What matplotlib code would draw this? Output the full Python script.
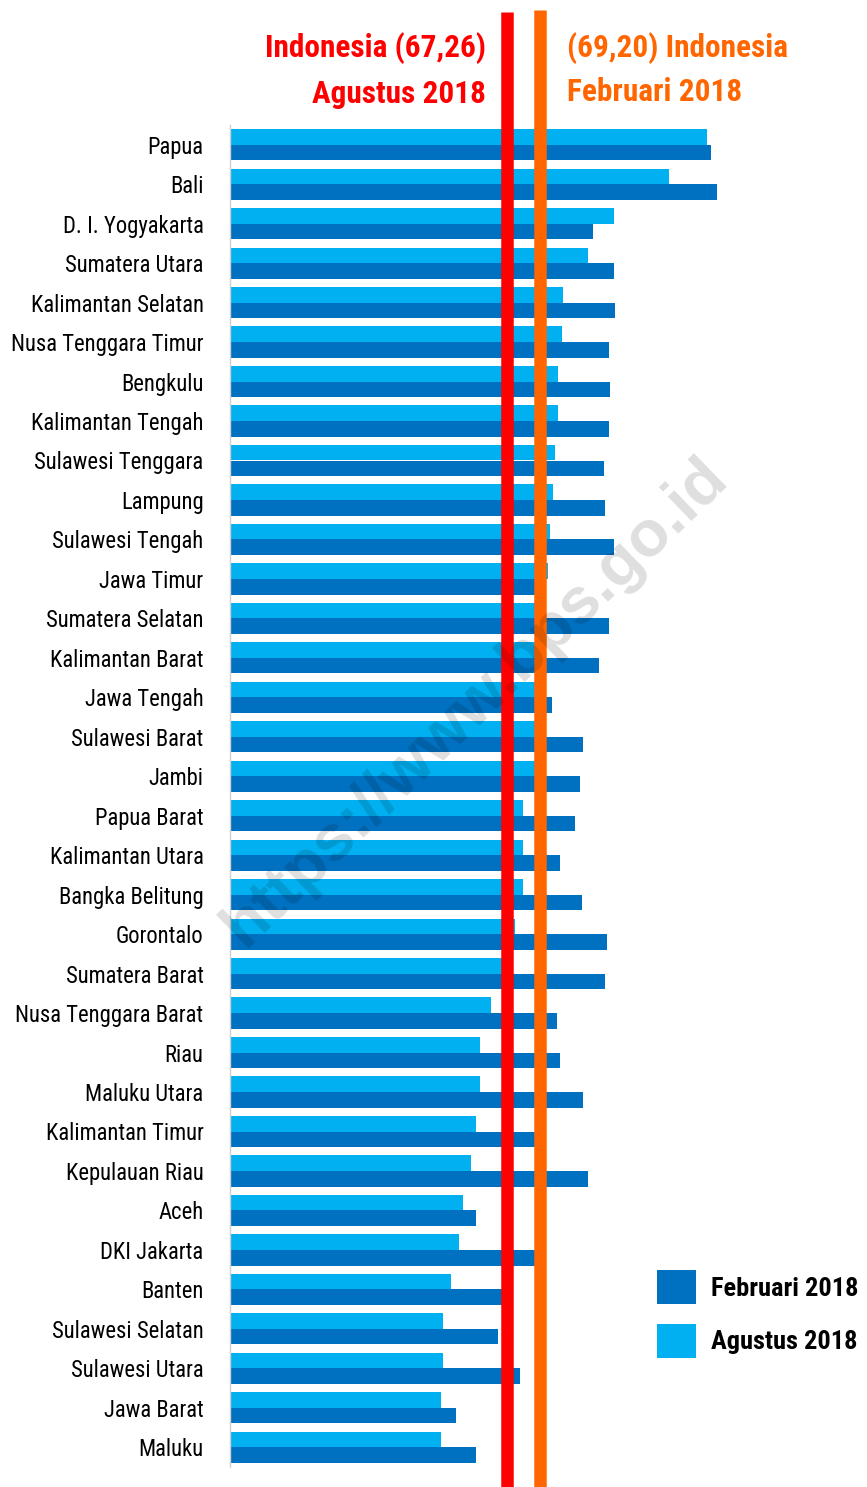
import matplotlib
matplotlib.use("Agg")
import matplotlib.pyplot as plt
from matplotlib import font_manager
import numpy as np

provinsi = ["Papua", "Bali", "D. I. Yogyakarta", "Sumatera Utara", "Kalimantan Selatan",
            "Nusa Tenggara Timur", "Bengkulu", "Kalimantan Tengah", "Sulawesi Tenggara",
            "Lampung", "Sulawesi Tengah", "Jawa Timur", "Sumatera Selatan", "Kalimantan Barat",
            "Jawa Tengah", "Sulawesi Barat", "Jambi", "Papua Barat", "Kalimantan Utara",
            "Bangka Belitung", "Gorontalo", "Sumatera Barat", "Nusa Tenggara Barat", "Riau",
            "Maluku Utara", "Kalimantan Timur", "Kepulauan Riau", "Aceh", "DKI Jakarta",
            "Banten", "Sulawesi Selatan", "Sulawesi Utara", "Jawa Barat", "Maluku"]

agustus_2018 = [79.2, 76.9, 73.6, 72.1, 70.6, 70.5, 70.3, 70.3, 70.1, 70.0,
                69.8, 69.7, 69.45, 69.3, 69.15, 69.0, 68.9, 68.2, 68.2, 68.2,
                67.7, 67.3, 66.3, 65.6, 65.6, 65.4, 65.1, 64.6, 64.4, 63.9,
                63.4, 63.4, 63.3, 63.3]

februari_2018 = [79.4, 79.8, 72.4, 73.6, 73.7, 73.3, 73.4, 73.3, 73.0, 73.1,
                 73.6, 69.2, 73.3, 72.7, 69.9, 71.8, 71.6, 71.3, 70.4, 71.7,
                 73.2, 73.1, 70.2, 70.4, 71.8, 69.2, 72.1, 65.4, 69.2, 67.2,
                 66.7, 68.0, 64.2, 65.4]

indo_agustus = 67.26
indo_februari = 69.20

c_feb = "#0070C0"
c_agu = "#00B0F0"

# cari font sempit kalau ada
names = set(f.name for f in font_manager.fontManager.ttflist)
narrow = [n for n in ["Liberation Sans Narrow", "Roboto Condensed", "Open Sans Condensed",
                      "DejaVu Sans"] if n in names]
cond = "condensed"

fig = plt.figure(figsize=(8.67, 14.87), dpi=100)
ax = fig.add_axes([230 / 867, 1 - 1467 / 1487, 637 / 867, 1342 / 1487])

y = np.arange(len(provinsi))
h = 0.395
ax.barh(y - h / 2, agustus_2018, height=h, color=c_agu, label="Agustus 2018", zorder=2)
ax.barh(y + h / 2, februari_2018, height=h, color=c_feb, label="Februari 2018", zorder=2)

xmin = 50.7
ax.set_xlim(xmin, xmin + 637 / 16.75)
ax.set_ylim(len(provinsi) - 0.5, -0.5)

# garis rata-rata nasional
ax.axvline(indo_agustus, ymin=-0.015, ymax=1.0845, color="#FF0000", lw=9,
           solid_capstyle="butt", clip_on=False, zorder=4)
ax.axvline(indo_februari, ymin=-0.015, ymax=1.0857, color="#FF6600", lw=9,
           solid_capstyle="butt", clip_on=False, zorder=4)

ax.set_yticks(y)
ax.set_yticklabels(provinsi, family=narrow, stretch=cond, fontsize=16.3, color="black")
ax.tick_params(axis="y", length=0, pad=19)
ax.set_xticks([])
for s in ["top", "right", "bottom"]:
    ax.spines[s].set_visible(False)
ax.spines["left"].set_color("#D0D0D0")
ax.spines["left"].set_linewidth(1)

tkw = dict(fontsize=22.5, fontweight="bold", family=narrow, stretch=cond, va="center")
fig.text(486 / 867, 1 - 48 / 1487, "Indonesia (67,26)", ha="right", color="#FF0000", **tkw)
fig.text(486 / 867, 1 - 94 / 1487, "Agustus 2018", ha="right", color="#FF0000", **tkw)
fig.text(567 / 867, 1 - 48 / 1487, "(69,20) Indonesia", ha="left", color="#FF6600", **tkw)
fig.text(567 / 867, 1 - 92 / 1487, "Februari 2018", ha="left", color="#FF6600", **tkw)

handles, labels = ax.get_legend_handles_labels()
leg = fig.legend(handles[::-1], labels[::-1], loc="center left",
                 bbox_to_anchor=(644 / 867, 1 - 1314 / 1487), frameon=False,
                 prop={"family": narrow, "size": 19, "weight": "bold", "stretch": cond},
                 handlelength=1.48, handleheight=1.6, handletextpad=0.55,
                 labelspacing=0.75, borderpad=0)

# watermark
fig.text(475 / 867, 1 - 702 / 1487, "https://www.bps.go.id", rotation=44,
         ha="center", va="center", fontsize=47, fontweight="bold",
         family=["Liberation Sans", "DejaVu Sans"], color="black", alpha=0.13,
         zorder=10)

fig.savefig("out.png", dpi=100)
